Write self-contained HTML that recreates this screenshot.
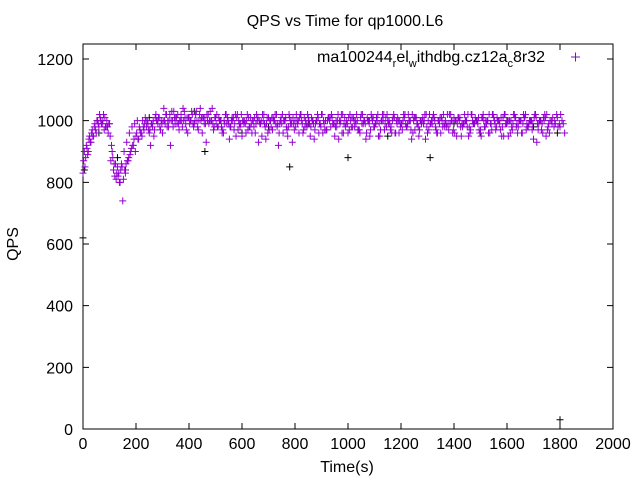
<!DOCTYPE html>
<html><head><meta charset="utf-8"><style>
body{margin:0;background:#fff}
svg{font-family:"Liberation Sans",sans-serif;font-size:16px}
</style></head><body>
<svg id="chart" width="640" height="480">
<text x="345" y="26" text-anchor="middle">QPS vs Time for qp1000.L6</text>
<rect x="83" y="44" width="530" height="385" fill="none" stroke="#000"/>
<g id="ticks"></g>
<text x="18" y="244" text-anchor="middle" transform="rotate(-90 18 244)">QPS</text>
<text x="347" y="472" text-anchor="middle">Time(s)</text>
<g>
<text x="545" y="62" text-anchor="end" font-size="16">ma100244<tspan font-size="11" dy="5">r</tspan><tspan dy="-5">el</tspan><tspan font-size="11" dy="5">w</tspan><tspan dy="-5">ithdbg.cz12a</tspan><tspan font-size="11" dy="5">c</tspan><tspan dy="-5">8r32</tspan></text>
<path d="M571 57h9M575.5 52.5v9" stroke="#9400d3" stroke-width="1"/>
</g>
<g id="pts"></g>
</svg>
<script>
const xTicks=[0,200,400,600,800,1000,1200,1400,1600,1800,2000];
const yTicks=[0,200,400,600,800,1000,1200];
const purpleA=[830,880,900,930,950,960,980,990,970,1000,990,900,820,850,800,740,830,870,900,920,950,940,960,970,980,960,990,970,1000,980,960,990,1000,920,980,1010,990,1020,1000,970,1010,1030,990,1000,1020,960,1010,1000,1030,990,1010,980,1000,960,1020,990,1000,970,1010,990,950,1000,1020,980,1000,960,1010,990,1000,940,1010,980,1000,1020,960,990,1000,970,1010,930,1000,990,1020,960,1000,1010,980,990,1000,960,1020,990,970,1000,1010,950,1000,990,1020,980,960,1000,1010,990,970,1020,1000,960,990,1010,980,1000,950,1020,990,1000,970,1010,960,1000,990,1020,980,1000,940,1010,990,970,1000,1020,960,990,1010,980,1000,960,1020,990,970,1000,1010,950,1000,990,1020,980,960,1000,1010,990,970,1020,1000,960,990,1010,980,1000,950,1020,990,1000,970,1010,960,1000,990,1020,980,1000,940,1010,990,970,1000,1020,960,990,1000,1010,980];
const purpleB=[900,910,950,970,990,1000,1010,1000,980,960,870,840,810,830,860,900,930,960,980,990,1000,970,1000,1010,990,920,1000,1020,1010,1000,1040,1020,1000,1030,1010,990,1000,980,1010,960,1000,990,1020,970,1000,1010,930,990,1000,980,1020,1000,960,990,1010,980,1000,1020,970,990,1000,960,1010,990,980,1020,1000,950,990,1010,1000,970,1020,990,1000,960,1010,980,1000,990,1020,960,1000,1010,980,990,1000,970,1020,990,960,1000,1010,980,990,1000,940,1020,990,1000,970,1010,980,1000,960,1020,990,1000,970,1010,990,950,1000,1020,980,1000,960,1010,990,1000,970,1020,990,1000,960,1010,980,1000,990,1020,970,1000,1010,960,990,1000,980,1020,990,960,1000,1010,980,990,1000,950,1020,990,1000,970,1010,980,1000,960,1020,990,1000,970,1010,990,950,1000,1020,980,1000,960,1010,990,1000,970,1020,990,1000,960,1010,980];
const purpleC=[870,920,940,960,980,1000,1020,990,1010,980,950,880,860,820,840,810,860,880,910,940,960,980,950,990,1000,970,980,1010,990,970,1000,1020,980,1000,1030,1010,970,1000,1030,1010,990,1020,1000,980,1040,1010,990,1020,1000,970,990,1010,980,1000,990,940,1010,990,1020,980,1000,990,970,1010,1000,990,930,1000,1020,990,970,1010,1000,980,990,1020,1000,950,990,1010,980,1000,1020,970,990,1000,1010,940,1000,990,1020,970,1000,1010,990,980,1020,1000,960,990,1010,980,1000,1020,970,990,1000,1010,950,1000,990,1020,970,1000,1010,990,980,1020,1000,960,990,1010,980,1000,1020,970,990,1000,1010,940,1000,990,1020,970,1000,1010,990,980,1020,1000,960,990,1010,980,1000,1020,970,990,1000,1010,950,1000,990,1020,970,1000,1010,990,980,1020,1000,960,990,1010,980,1000,1020,970,990,1000,1010,930,1000,990,1020,970,1000,1010,990,980,1020,990];
const purpleD=[850,890,930,950,970,990,1000,1020,980,990,920,860,830,800,850,840,870,890,920,900,940,960,980,1000,970,990,950,1000,1010,990,1000,980,1020,1000,990,1020,1000,1040,990,1010,1000,980,1030,1000,1010,990,1020,1000,1040,1010,980,1000,970,1020,1000,980,1010,950,1000,1020,990,1000,980,960,1010,1000,990,1020,980,960,1000,1010,990,920,1010,1000,980,1020,990,970,1000,1010,990,980,1020,950,1000,990,1010,980,1000,970,1010,1020,990,980,1000,960,1010,990,1020,980,1000,970,1010,990,940,1000,1020,980,1010,990,1000,970,1020,990,1000,960,1010,980,1000,990,1020,970,1000,1010,950,990,1000,980,1020,990,1000,960,1010,980,1000,990,1020,970,1000,1010,950,990,1000,980,1020,990,1000,960,1010,980,1000,990,1020,970,1000,1010,950,990,1000,980,1020,990,1000,960,1010,980,1000,990,1020,970,1000,1010,950,990,1000,980,1020,990,1000,960];
const blackT=[0,5,60,130,160,250,300,420,460,520,600,700,780,850,1000,1080,1150,1250,1310,1400,1500,1600,1700,1790,1800];
const blackV=[620,840,960,880,840,1010,960,1030,900,1000,960,980,850,990,880,1000,950,1010,880,990,960,1000,980,960,30];
const X=v=>83+v*530/2000, Y=v=>429-v*370/1200;
const NS='http://www.w3.org/2000/svg';
const tg=document.getElementById('ticks'), pg=document.getElementById('pts');
function mk(t,a,p){const e=document.createElementNS(NS,t);for(const k in a)e.setAttribute(k,a[k]);p.appendChild(e);return e;}
xTicks.forEach(v=>{
 const l=mk('path',{d:`M${X(v)} 429v-6M${X(v)} 44v6`,stroke:'#000'},tg);
 
 
 const t=mk('text',{x:X(v),y:449,'text-anchor':'middle'},tg);t.textContent=v;
 
 
});
yTicks.forEach(v=>{
 const l=mk('path',{d:`M83 ${Y(v)}h6M613 ${Y(v)}h-6`,stroke:'#000'},tg);
 
 
 const t=mk('text',{x:73,y:Y(v)+6,'text-anchor':'end'},tg);t.textContent=v;
 
 
});
function plus(x,y,c){const p=mk('path',{d:`M${x-3.5} ${y}h7M${x} ${y-3.5}v7`,stroke:c,'stroke-width':1},pg);return p;}
blackT.forEach((t,i)=>{const p=plus(X(t),Y(blackV[i]),'#000');
 
 });
[[purpleA,0],[purpleB,5],[purpleC,2.5],[purpleD,7.5]].forEach(([arr,off])=>{
 arr.forEach((v,i)=>{const p=plus(X(i*10+off),Y(v),'#9400d3');
  
  });
});
</script>
</body></html>
